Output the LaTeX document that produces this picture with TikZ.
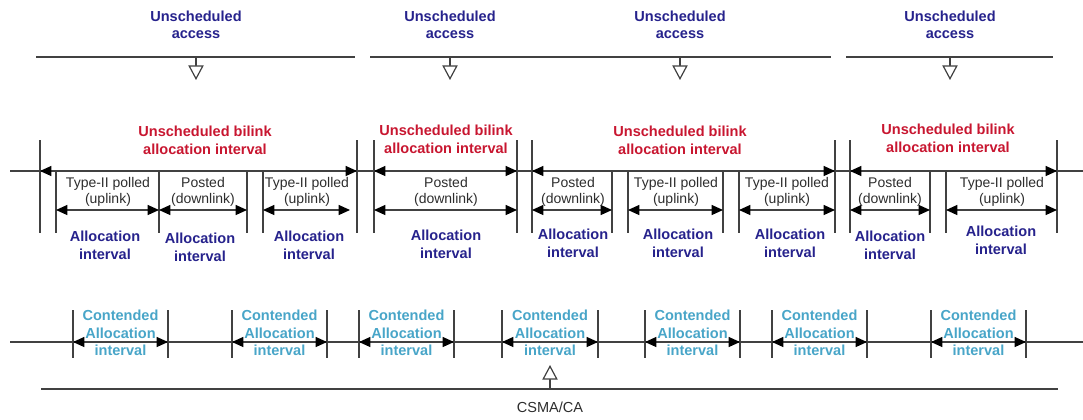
\documentclass[tikz,border=0pt]{standalone}
\usepackage{fontspec}
\setmainfont{Liberation Sans}
\usetikzlibrary{arrows.meta}
\definecolor{accblue}{RGB}{38,34,140}
\definecolor{bilinkred}{RGB}{200,22,48}
\definecolor{contcyan}{RGB}{72,165,200}
\definecolor{linegray}{RGB}{65,65,65}
\definecolor{txtgray}{RGB}{45,45,45}
\begin{document}
\begin{tikzpicture}[x=0.75pt, y=-0.75pt,
  rule/.style={draw=linegray, line width=0.9pt},
  span/.style={rule, {Triangle[length=8.5pt,width=7.5pt,color=black]}-{Triangle[length=8.5pt,width=7.5pt,color=black]}},
  opentip/.style={rule, -{Triangle[open,length=11pt,width=11.5pt,fill=white]}},
  lbl/.style={align=center, inner sep=0pt, font=\fontsize{10.9}{13.5}\selectfont},
  acclbl/.style={lbl, text=accblue, font=\fontsize{10.9}{12.8}\selectfont\bfseries},
  redlbl/.style={lbl, text=bilinkred, font=\fontsize{10.9}{13.5}\selectfont\bfseries},
  bluelbl/.style={lbl, text=accblue, font=\fontsize{10.9}{13.5}\selectfont\bfseries},
  typelbl/.style={lbl, text=txtgray, font=\fontsize{10.5}{12}\selectfont},
  contlbl/.style={lbl, text=contcyan, font=\fontsize{10.9}{13.1}\selectfont\bfseries},
]
\useasboundingbox (0,0) rectangle (1083,419);

% ---------- unscheduled access (top) ----------
\draw[rule] (36,57) -- (355,57);
\draw[rule] (370,57) -- (831,57);
\draw[rule] (846,57) -- (1053,57);
\foreach \x [count=\i] in {196,450,680,950} {
  \node[acclbl] (ua\i) at (\x,25) {Unscheduled\\access};
  \coordinate (uatop\i) at (\x,57);
  \coordinate (uatip\i) at (\x,80);
  \draw[opentip] (uatop\i) -- (uatip\i);
}

% ---------- bilink allocation intervals (middle) ----------
\draw[rule] (10,171) -- (1083,171);
% outer boundaries of each bilink interval
\foreach \x in {40,357,374,517,532,835,850,1057}
  \draw[rule] (\x,140) -- (\x,233);
% inner boundaries of the allocation intervals
\foreach \x in {56,159,247,263,612,628,723,739,930,946}
  \draw[rule] (\x,171) -- (\x,233);
% whole bilink intervals
\foreach \a/\b in {40/357,374/517,532/835,850/1057}
  \draw[span] (\a,171) -- (\b,171);
% allocation intervals
\foreach \a/\b in {56/159,159/247,263/350,374/517,532/612,628/723,739/835,850/930,946/1057}
  \draw[span] (\a,210) -- (\b,210);

\foreach \x/\y [count=\i] in {205/140,446/139,680/140,948/138}
  \node[redlbl] (bl\i) at (\x,\y) {Unscheduled bilink\\allocation interval};

\node[typelbl] (t1) at (108,192) {Type-II polled\\(uplink)};
\node[typelbl] (t2) at (203,192) {Posted\\(downlink)};
\node[typelbl] (t3) at (307,192) {Type-II polled\\(uplink)};
\node[typelbl] (t4) at (446,192) {Posted\\(downlink)};
\node[typelbl] (t5) at (573,192) {Posted\\(downlink)};
\node[typelbl] (t6) at (676,192) {Type-II polled\\(uplink)};
\node[typelbl] (t7) at (787,192) {Type-II polled\\(uplink)};
\node[typelbl] (t8) at (890,192) {Posted\\(downlink)};
\node[typelbl] (t9) at (1002,192) {Type-II polled\\(uplink)};

\foreach \x/\y [count=\i] in {105/245,200/247,309/245,446/244,573/243,678/243,790/243,890/245,1001/240}
  \node[bluelbl] (ai\i) at (\x,\y) {Allocation\\interval};

% ---------- contended allocation intervals (bottom) ----------
\draw[rule] (10,342) -- (1083,342);
\foreach \a/\b [count=\i] in {73/168,232/327,359/454,502/598,645/740,772/867,931/1026} {
  \draw[rule] (\a,310) -- (\a,358);
  \draw[rule] (\b,310) -- (\b,358);
  \draw[span] (\a,342) -- (\b,342);
  \node[contlbl] (ca\i) at ({(\a+\b)/2},333) {Contended\\Allocation\\interval};
}

% ---------- CSMA/CA ----------
\draw[rule] (41,389) -- (1058,389);
\coordinate (csbase) at (550,389);
\coordinate (cstip) at (550,365);
\draw[opentip] (csbase) -- (cstip);
\node[typelbl, font=\fontsize{10.9}{13}\selectfont] (csma) at (550,407) {CSMA/CA};
\end{tikzpicture}
\end{document}
